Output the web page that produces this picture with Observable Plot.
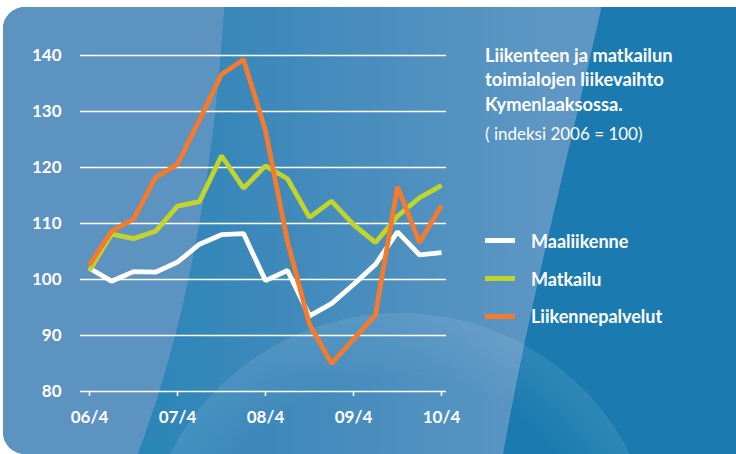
<!DOCTYPE html>
<html>
<head>
<meta charset="utf-8">
<script src="https://cdn.jsdelivr.net/npm/d3@7"></script>
<script src="https://cdn.jsdelivr.net/npm/@observablehq/plot@0.6"></script>
<style>
  html, body { margin: 0; padding: 0; background: #fff; }
  #wrap { position: relative; width: 736px; height: 454px; overflow: hidden; font-family: Lato, "Open Sans", sans-serif; }
  #bg { position: absolute; left: 0; top: 0; }
  #chart { position: absolute; left: 0; top: 0; }
  #chart svg { background: transparent !important; }
  .title { position: absolute; left: 485px; top: 43px; color: #fff; font-weight: bold; font-size: 18.3px; line-height: 24.3px; white-space: nowrap; }
  .subtitle { position: absolute; left: 485px; top: 123px; color: #fff; font-size: 17px; white-space: nowrap; }
  .legend { position: absolute; left: 485px; top: 222px; color: #fff; font-weight: bold; font-size: 18px; }
  .legend .item { display: flex; align-items: center; height: 37.8px; white-space: nowrap; }
  .legend .sw { width: 30px; height: 5px; margin-right: 16px; }
</style>
</head>
<body>
<div id="wrap">
  <svg id="bg" width="736" height="454" xmlns="http://www.w3.org/2000/svg">
    <defs>
      <clipPath id="card"><rect x="3" y="7" width="760" height="447" rx="22" ry="22"/></clipPath>
      <linearGradient id="mid" x1="140" y1="0" x2="560" y2="0" gradientUnits="userSpaceOnUse">
        <stop offset="0" stop-color="#2a86b8"/>
        <stop offset="0.25" stop-color="#3b88ba"/>
        <stop offset="1" stop-color="#5f97c4"/>
      </linearGradient>
      <radialGradient id="circ" cx="400" cy="571" r="258" gradientUnits="userSpaceOnUse">
        <stop offset="0.75" stop-color="#ffffff" stop-opacity="0"/>
        <stop offset="1" stop-color="#ffffff" stop-opacity="0.09"/>
      </radialGradient>
    </defs>
    <g clip-path="url(#card)">
      <rect x="0" y="0" width="800" height="454" fill="#1b7bb0"/>
      <path d="M225,0 C215,150 195,300 138,454 L503,454 C530,300 570,150 603,0 Z" fill="url(#mid)"/>
      <circle cx="400" cy="571" r="258" fill="url(#circ)"/>
      <path d="M0,0 L225,0 C215,150 195,300 138,454 L0,454 Z" fill="#5d93c0"/>
    </g>
  </svg>
  <div id="chart"></div>
  <div class="title">Liikenteen ja matkailun<br>toimialojen liikevaihto<br>Kymenlaaksossa.</div>
  <div class="subtitle">( indeksi 2006 = 100)</div>
  <div class="legend" id="legend"></div>
</div>
<script>
const quarters = ["06/4","07/1","07/2","07/3","07/4","08/1","08/2","08/3","08/4","09/1","09/2","09/3","09/4","10/1","10/2","10/3","10/4"];
const xTickLabels = ["06/4","07/4","08/4","09/4","10/4"];
const yTicks = [80, 90, 100, 110, 120, 130, 140];

const seriesNames = ["Maaliikenne", "Matkailu", "Liikennepalvelut"];
const seriesColors = ["#ffffff", "#c2d42a", "#f47a2c"];

const maaliikenne = [102.0, 99.7, 101.4, 101.3, 103.1, 106.3, 108.0, 108.2, 99.8, 101.6, 93.5, 95.7, 99.1, 102.7, 108.5, 104.4, 104.8];
const matkailu = [101.6, 108.1, 107.3, 108.6, 113.1, 113.9, 122.1, 116.3, 120.3, 118.0, 111.1, 114.0, 109.8, 106.6, 111.3, 114.6, 116.8];
const liikennepalvelut = [102.6, 108.6, 110.8, 118.2, 120.6, 128.5, 136.6, 139.3, 126.6, 106.8, 92.0, 85.0, 89.3, 93.7, 116.6, 106.6, 113.2];

const seriesValues = [maaliikenne, matkailu, liikennepalvelut];
const data = seriesNames.flatMap((name, s) =>
  quarters.map((q, i) => ({series: name, quarter: q, value: seriesValues[s][i]}))
);

const chart = Plot.plot({
  width: 736,
  height: 454,
  marginLeft: 87,
  marginRight: 294,
  marginTop: 55,
  marginBottom: 63,
  style: {background: "transparent", color: "white", fontFamily: "Lato, 'Open Sans', sans-serif", fontSize: "17px", fontWeight: "bold", overflow: "visible"},
  x: {type: "point", domain: quarters, padding: 0, label: null},
  y: {domain: [80, 140], label: null},
  color: {domain: seriesNames, range: seriesColors},
  marks: [
    Plot.ruleY(yTicks, {stroke: "white", strokeWidth: 1.6, insetLeft: -7, insetRight: -4}),
    Plot.axisY({ticks: yTicks, tickSize: 0, tickPadding: 26, label: null, fill: "white"}),
    Plot.axisX({ticks: xTickLabels, tickSize: 5, tickPadding: 14, label: null, stroke: "white", strokeWidth: 1.6, fill: "white"}),
    Plot.line(data, {x: "quarter", y: "value", z: "series", stroke: "series", strokeWidth: 4.8, strokeLinejoin: "miter", strokeLinecap: "butt"})
  ]
});
document.getElementById("chart").appendChild(chart);

const legend = document.getElementById("legend");
seriesNames.forEach((name, i) => {
  const item = document.createElement("div");
  item.className = "item";
  const sw = document.createElement("div");
  sw.className = "sw";
  sw.style.background = seriesColors[i];
  const label = document.createElement("span");
  label.textContent = name;
  item.appendChild(sw);
  item.appendChild(label);
  legend.appendChild(item);
});
</script>
</body>
</html>
